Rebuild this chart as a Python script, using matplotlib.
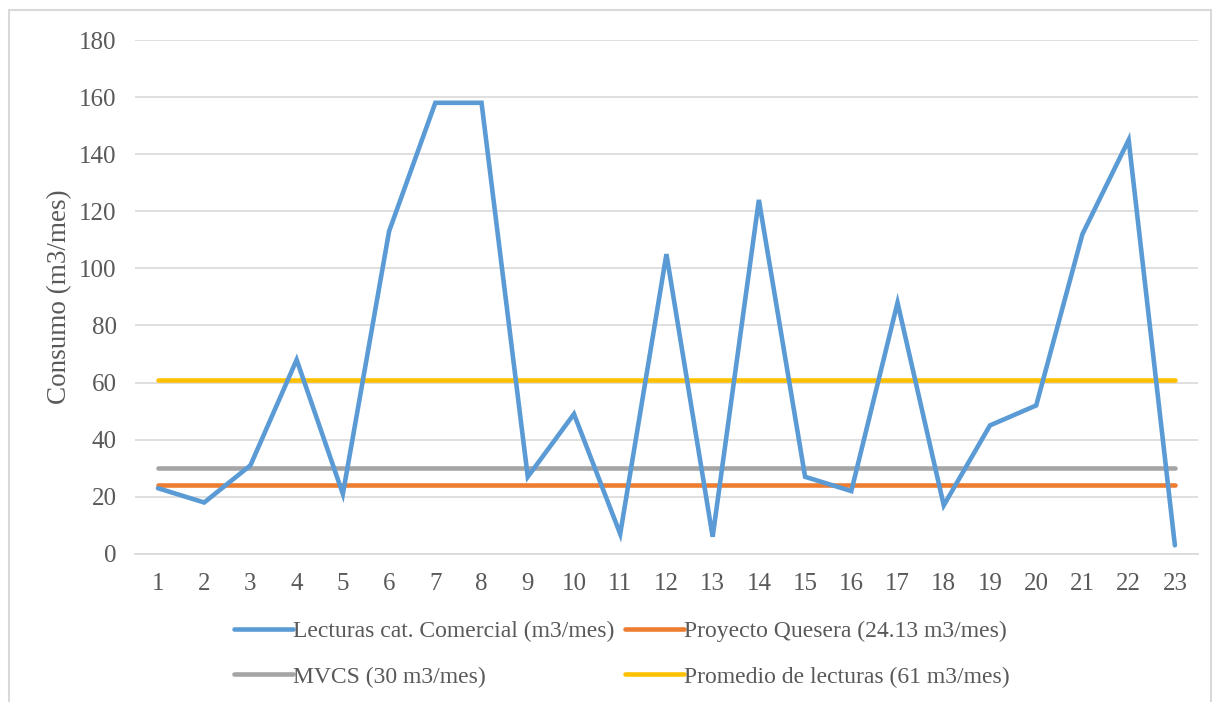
import numpy as np
import matplotlib
matplotlib.use('Agg')
import matplotlib.pyplot as plt
from matplotlib.patches import Rectangle

meses = list(range(1, 24))
lecturas = [23, 18, 31, 68, 21, 113, 158, 158, 27, 49, 7, 105, 6, 124, 27, 22, 88, 17, 45, 52, 112, 145, 3]
quesera = 24.13
mvcs = 30
promedio = 61

plt.rcParams['font.family'] = ['Liberation Serif', 'DejaVu Serif']
txt = '#595959'

fig = plt.figure(figsize=(12.15, 7.02), dpi=100)
ax = fig.add_axes([0.111, 0.211, 0.875, 0.732])

x = np.array(meses)
lw = 3.3
l1, = ax.plot(x, lecturas, color='#5B9BD5', lw=lw, solid_capstyle='round', solid_joinstyle='miter', zorder=5)
l2, = ax.plot(x, np.full(len(x), quesera), color='#ED7D31', lw=lw, solid_capstyle='round', zorder=3)
l3, = ax.plot(x, np.full(len(x), mvcs), color='#A5A5A5', lw=lw, solid_capstyle='round', zorder=3)
l4, = ax.plot(x, np.full(len(x), promedio), color='#FFC000', lw=lw, solid_capstyle='round', zorder=3)

ax.set_xlim(0.5, 23.5)
ax.set_ylim(0, 180)
ax.set_yticks(range(0, 181, 20))
ax.set_xticks(x)
ax.grid(axis='y', color='#D9D9D9', lw=1.2)
ax.set_axisbelow(True)
for s in ax.spines.values():
    s.set_visible(False)
ax.spines['bottom'].set_visible(True)
ax.spines['bottom'].set_color('#D9D9D9')
ax.spines['bottom'].set_linewidth(1.2)
ax.tick_params(length=0, labelsize=18, colors=txt)
ax.tick_params(axis='x', pad=14)
ax.tick_params(axis='y', pad=13)
ax.set_ylabel('Consumo (m3/mes)', fontsize=19.5, color=txt, labelpad=5)

fig.legend([l1, l3, l2, l4],
           ['Lecturas cat. Comercial (m3/mes)', 'MVCS (30 m3/mes)',
            'Proyecto Quesera (24.13 m3/mes)', 'Promedio de lecturas (61 m3/mes)'],
           ncol=2, loc='center', bbox_to_anchor=(0.5115, 0.068), frameon=False,
           fontsize=17, labelcolor=txt, handlelength=2.5, handletextpad=0.0,
           columnspacing=0.45, labelspacing=1.0)

fig.patches.append(Rectangle((0.007, -0.01), 0.99, 0.996, transform=fig.transFigure,
                             fill=False, edgecolor='#D9D9D9', lw=1.5))

fig.savefig('out.png', dpi=100)
